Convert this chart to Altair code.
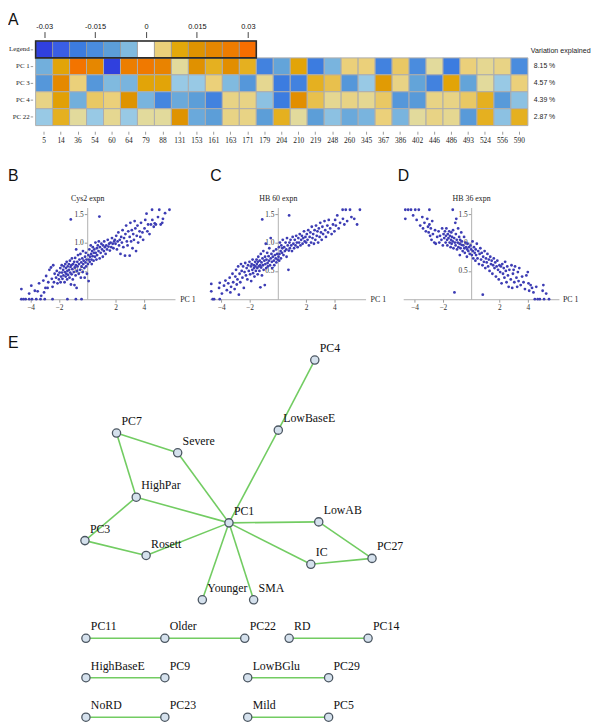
import altair as alt
import pandas as pd

W, H = 592, 718
SERIF = "Liberation Serif"
SANS = "Liberation Sans"

# ---------------- Panel A data ----------------
columns = ["5", "14", "36", "54", "60", "64", "79", "88", "131", "153", "161", "163", "171", "179",
           "204", "210", "219", "248", "260", "345", "367", "386", "402", "446", "486", "493", "524", "556", "590"]
pc_rows = ["PC 1", "PC 3", "PC 4", "PC 22"]
pc1 = [-0.007, 0.011, 0.028, 0.020, -0.030, 0.024, 0.026, 0.022, 0.002, 0.016, 0.009, 0.017, 0.009, -0.018,
       -0.009, 0.011, -0.020, -0.006, 0.005, 0.005, -0.018, 0.006, -0.015, 0.002, -0.020, 0.005, 0.003, 0.004, -0.015]
pc3 = [-0.012, 0.019, 0.005, -0.012, -0.005, -0.006, 0.011, 0.011, -0.003, -0.003, 0.005, -0.005, -0.012, 0.003,
       -0.020, -0.018, 0.009, 0.007, -0.012, -0.003, 0.013, 0.004, -0.009, -0.018, 0.011, -0.009, 0.002, -0.003, 0.005]
pc4 = [0.004, 0.012, -0.007, 0.006, 0.005, 0.015, -0.006, -0.017, -0.008, -0.010, -0.018, 0.004, 0.004, -0.004,
       -0.020, 0.017, 0.007, 0.003, 0.004, 0.003, 0.006, -0.012, -0.011, 0.004, 0.004, 0.006, 0.009, -0.011, -0.004]
pc22 = [-0.003, 0.009, 0.002, -0.003, 0.003, -0.003, 0.002, 0.002, 0.015, -0.008, -0.010, 0.004, 0.004, -0.010,
        0.009, 0.002, -0.010, -0.004, -0.008, -0.006, 0.005, -0.006, 0.002, 0.004, 0.003, -0.011, 0.009, -0.004, 0.009]
variation = ["8.15 %", "4.57 %", "4.39 %", "2.87 %"]
legend_vals = [-0.03, -0.025, -0.02, -0.015, -0.01, -0.005, 0, 0.005, 0.01, 0.015, 0.02, 0.025, 0.03]
legend_ticks = [-0.03, -0.015, 0, 0.015, 0.03]
color_domain = [-0.03, -0.025, -0.02, -0.015, -0.01, -0.005, -0.002, 0, 0.002, 0.005, 0.01, 0.015, 0.02, 0.025, 0.03]
color_range = ["#3040de", "#3a5ee4", "#3c7ce0", "#4a8cde", "#5c9ed8", "#80badf", "#a4d0e8", "#ffffff",
               "#e2da9c", "#ebd07a", "#e3a80a", "#df9300", "#e68700", "#ee7c00", "#f76e00"]

# ---------------- Panels B-D data (PC 1 score, expression) ----------------
b_points = [
    (-4.65, 0), (-4.5, 0), (-4.35, 0), (-4.1, 0), (-3.9, 0), (-3.6, 0), (-3.3, 0), (-3.0, 0), (-2.45, 0), (-1.4, 0), (-0.8, 0), (-0.4, 0),
    (-4.65, 0.18), (-4.1, 0.1), (-3.95, 0.24), (-3.7, 0.15), (-3.5, 0.14), (-3.4, 0.28), (-3.25, 0.06), (-3.1, 0.33), (-3.05, 0.12),
    (-2.95, 0.2), (-2.9, 0.41), (-2.8, 0.2), (-2.75, 0.3), (-2.67, 0.52), (-2.56, 0.56), (-2.5, 0.36), (-2.45, 0.22), (-2.4, 0.6),
    (-2.35, 0.3), (-2.3, 0.45), (-2.2, 0.38), (-2.15, 0.5), (-2.1, 0.28), (-2.05, 0.43), (-2.0, 0.35), (-1.95, 0.47), (-1.9, 0.55),
    (-1.88, 0.3), (-1.85, 0.4), (-1.8, 0.6), (-1.78, 0.47), (-1.75, 0.36), (-1.7, 0.52), (-1.68, 0.42), (-1.65, 0.58), (-1.6, 0.3),
    (-1.58, 0.48), (-1.55, 0.62), (-1.52, 0.4), (-1.5, 0.55), (-1.48, 0.45), (-1.45, 0.66), (-1.42, 0.35), (-1.4, 0.5), (-1.38, 0.58),
    (-1.35, 0.43), (-1.3, 0.62), (-1.28, 0.52), (-1.25, 0.38), (-1.22, 0.68), (-1.2, 0.47), (-1.18, 0.57), (-1.15, 0.26), (-1.12, 0.6),
    (-1.1, 0.44), (-1.08, 0.72), (-1.05, 0.53), (-1.02, 0.35), (-1.0, 0.62), (-1.16, 1.41),
    (-0.95, 0.48), (-0.92, 0.66), (-0.9, 0.25), (-0.88, 0.56), (-0.85, 0.73), (-0.82, 0.42), (-0.8, 0.6), (-0.78, 0.88), (-0.75, 0.2),
    (-0.72, 0.5), (-0.7, 0.66), (-0.68, 0.58), (-0.65, 0.78), (-0.6, 0.45), (-0.58, 0.62), (-0.55, 0.7), (-0.5, 0.52), (-0.48, 0.8),
    (-0.45, 0.38), (-0.42, 0.65), (-0.4, 0.58), (-0.35, 0.72), (-0.32, 0.48), (-0.3, 0.85), (-0.28, 0.62), (-0.25, 0.68), (-0.2, 0.55),
    (-0.18, 0.38), (-0.15, 0.75), (-0.12, 0.65), (-0.1, 0.82), (-0.08, 0.58), (-0.05, 0.7), (-0.02, 0.45),
    (0.05, 0.62), (0.08, 0.78), (0.1, 0.32), (0.12, 0.7), (0.15, 0.88), (0.18, 0.66), (0.2, 0.75), (0.25, 0.95), (0.28, 0.8), (0.3, 0.7),
    (0.32, 0.62), (0.35, 0.85), (0.38, 0.76), (0.4, 0.92), (0.45, 0.68), (0.48, 0.82), (0.5, 0.88), (0.55, 0.75), (0.58, 1.0), (0.6, 0.82),
    (0.65, 0.7), (0.68, 0.9), (0.7, 0.78), (0.75, 0.95), (0.8, 0.85), (0.82, 1.02), (0.86, 1.46), (0.88, 0.72), (0.9, 0.92), (0.95, 0.82),
    (1.0, 0.98), (1.05, 0.88), (1.1, 0.75), (1.12, 0.95), (1.18, 0.85), (1.2, 1.02), (1.25, 0.92), (1.3, 0.8), (1.35, 0.95), (1.4, 0.88),
    (1.45, 1.05), (1.5, 0.93), (1.55, 0.98), (1.6, 0.86), (1.65, 1.0), (1.7, 0.92), (1.75, 1.08), (1.8, 0.98), (1.85, 0.9), (1.9, 1.02),
    (1.95, 1.05), (2.0, 0.98), (2.05, 1.12), (2.1, 0.88), (2.15, 1.02), (2.2, 1.18), (2.25, 0.95), (2.3, 1.05), (2.35, 0.8), (2.4, 1.1),
    (2.45, 1.0), (2.5, 1.22), (2.55, 0.92), (2.6, 1.08), (2.67, 0.77), (2.7, 1.15), (2.75, 1.3), (2.8, 1.02), (2.85, 0.95), (2.9, 1.2),
    (3.0, 0.77), (3.0, 1.1), (3.05, 1.35), (3.1, 1.02), (3.15, 1.22), (3.2, 0.9), (3.25, 1.15), (3.3, 1.05), (3.35, 1.38), (3.4, 1.25),
    (3.45, 0.85), (3.5, 1.12), (3.55, 1.3), (3.6, 1.0), (3.7, 1.2), (3.75, 1.1), (3.8, 1.35), (3.9, 1.18), (3.95, 1.05),
    (4.05, 1.25), (4.1, 1.4), (4.19, 1.51), (4.25, 1.2), (4.3, 1.32), (4.4, 1.15), (4.5, 1.32), (4.58, 1.58), (4.6, 1.4), (4.7, 1.28),
    (4.77, 1.34), (4.85, 1.32), (5.0, 1.45), (5.09, 1.58), (5.19, 1.32), (5.3, 1.35), (5.35, 1.42), (5.5, 1.52), (5.81, 1.58),
]
c_points = [
    (-4.7, 0.14), (-4.7, 0.27), (-4.6, 0), (-4.5, 0), (-4.1, 0), (-4.1, 0.29), (-4.15, 0.2), (-3.95, 0.1), (-3.8, 0.24), (-3.7, 0.33),
    (-3.6, 0.16), (-3.5, 0.28), (-3.4, 0.38), (-3.35, 0.12), (-3.3, 0.22), (-3.2, 0.45), (-3.15, 0.3), (-3.05, 0.18), (-3.0, 0.4),
    (-2.95, 0.52), (-2.9, 0.26), (-2.85, 0.35), (-2.8, 0.58), (-2.75, 0.08), (-2.7, 0.45), (-2.65, 0.3), (-2.6, 0.62), (-2.55, 0.5),
    (-2.5, 0.38), (-2.45, 0.58), (-2.4, 0.2), (-2.35, 0.48), (-2.3, 0.64), (-2.25, 0.42), (-2.2, 0.55), (-2.15, 0.35), (-2.1, 0.6),
    (-2.05, 0.5), (-2.0, 0.66), (-1.95, 0.44), (-1.9, 0.58), (-1.88, 0.32), (-1.85, 0.62), (-1.8, 0.52), (-1.78, 0.7), (-1.75, 0.46),
    (-1.7, 0.6), (-1.68, 0.55), (-1.65, 0.4), (-1.6, 0.66), (-1.58, 0.58), (-1.55, 0.5), (-1.5, 0.7), (-1.48, 0.62), (-1.45, 0.55),
    (-1.42, 0.44), (-1.4, 0.66), (-1.38, 0.75), (-1.35, 0.58), (-1.3, 0.5), (-1.28, 0.68), (-1.25, 0.6), (-1.23, 0.21), (-1.2, 0.8),
    (-1.18, 0.56), (-1.15, 0.65), (-1.12, 0.42), (-1.1, 1.41), (-1.08, 0.72), (-1.05, 0.6), (-1.02, 0.85), (-1.0, 0.52), (-0.95, 0.68),
    (-0.92, 0.25), (-0.9, 0.75), (-0.88, 0.62), (-0.85, 0.98), (-0.82, 0.55), (-0.8, 0.7), (-0.75, 0.82), (-0.72, 0.64), (-0.7, 0.58),
    (-0.65, 0.76), (-0.62, 0.68), (-0.6, 0.9), (-0.55, 0.6), (-0.5, 1.08), (-0.5, 0.72), (-0.45, 0.8), (-0.42, 0.66), (-0.4, 0.55),
    (-0.35, 0.75), (-0.3, 0.85), (-0.28, 0.68), (-0.25, 0.6), (-0.2, 0.78), (-0.15, 0.72), (-0.12, 0.88), (-0.1, 0.65), (-0.05, 0.8),
    (-0.02, 0.7), (0.05, 0.75), (0.08, 0.92), (0.1, 0.68), (0.12, 0.8), (0.15, 1.0), (0.2, 0.85), (0.22, 0.72), (0.25, 0.95), (0.3, 0.82),
    (0.32, 0.9), (0.35, 1.05), (0.4, 0.78), (0.45, 0.92), (0.5, 0.85), (0.55, 1.0), (0.6, 0.88), (0.62, 0.75), (0.65, 1.08), (0.7, 0.95),
    (0.75, 0.52), (0.78, 0.86), (0.8, 1.48), (0.82, 1.0), (0.85, 0.9), (0.9, 1.05), (0.95, 0.95), (1.0, 0.85), (1.05, 1.1), (1.1, 0.98),
    (1.15, 0.9), (1.2, 1.05), (1.25, 0.95), (1.3, 1.12), (1.35, 1.0), (1.4, 0.92), (1.45, 1.08), (1.5, 1.0), (1.55, 1.15), (1.6, 0.95),
    (1.65, 1.05), (1.7, 1.12), (1.75, 0.98), (1.8, 1.08), (1.85, 1.2), (1.9, 1.02), (1.95, 1.1), (2.0, 1.0), (2.05, 1.15), (2.1, 1.05),
    (2.15, 1.22), (2.2, 0.95), (2.25, 1.1), (2.3, 1.18), (2.35, 1.0), (2.4, 1.28), (2.45, 1.08), (2.5, 1.15), (2.55, 0.98), (2.6, 1.22),
    (2.65, 1.05), (2.7, 1.3), (2.75, 1.12), (2.8, 1.2), (2.85, 1.0), (2.9, 1.25), (2.95, 1.1), (3.0, 1.35), (3.05, 1.18), (3.1, 1.05),
    (3.15, 1.28), (3.2, 1.15), (3.3, 1.38), (3.35, 1.22), (3.4, 1.1), (3.5, 1.3), (3.55, 1.18), (3.6, 1.4), (3.7, 1.25), (3.8, 1.15),
    (3.9, 1.32), (4.0, 1.2), (4.05, 1.4), (4.1, 1.3), (4.2, 1.48), (4.3, 1.25), (4.4, 1.35), (4.58, 1.58), (4.6, 1.42), (4.7, 1.32),
    (4.8, 1.58), (4.9, 1.38), (5.1, 1.58), (5.2, 1.45), (5.4, 1.42), (5.6, 1.32), (5.8, 1.58),
]
d_points = [
    (-4.65, 1.58), (-4.45, 1.58), (-4.25, 1.58), (-3.95, 1.58), (-3.7, 1.58), (-2.95, 1.58), (-1.3, 1.58),
    (-4.65, 1.42), (-4.1, 1.48), (-3.85, 1.4), (-3.6, 1.3), (-3.45, 1.45), (-3.4, 1.25), (-3.3, 1.35), (-3.2, 1.2), (-3.1, 1.42),
    (-3.05, 1.28), (-3.0, 1.18), (-2.95, 1.32), (-2.9, 1.12), (-2.85, 1.25), (-2.8, 1.05), (-2.75, 1.38), (-2.7, 1.15), (-2.6, 1.0),
    (-2.55, 1.22), (-2.5, 0.98), (-2.4, 1.1), (-2.3, 1.2), (-2.25, 1.0), (-2.2, 1.12), (-2.1, 1.05), (-2.05, 1.25), (-2.0, 0.95),
    (-1.95, 1.15), (-1.9, 1.08), (-1.85, 1.2), (-1.8, 1.0), (-1.78, 1.12), (-1.75, 1.25), (-1.7, 1.05), (-1.68, 0.95), (-1.65, 1.15),
    (-1.6, 1.08), (-1.55, 1.2), (-1.52, 1.0), (-1.5, 1.12), (-1.45, 0.92), (-1.42, 1.05), (-1.4, 1.18), (-1.38, 0.98), (-1.35, 1.1),
    (-1.3, 1.02), (-1.28, 1.22), (-1.25, 0.9), (-1.2, 1.08), (-1.18, 0.12), (-1.15, 1.0), (-1.12, 1.35), (-1.1, 0.95), (-1.08, 1.15),
    (-1.05, 1.42), (-1.02, 1.05), (-1.0, 0.88), (-0.95, 1.0), (-0.92, 1.25), (-0.9, 0.92), (-0.85, 1.1), (-0.82, 0.98), (-0.8, 0.78),
    (-0.78, 1.05), (-0.75, 0.9), (-0.7, 1.18), (-0.68, 0.96), (-0.65, 1.02), (-0.6, 0.85), (-0.55, 0.95), (-0.5, 1.1), (-0.48, 0.9),
    (-0.45, 0.82), (-0.4, 1.0), (-0.35, 0.92), (-0.3, 0.75), (-0.28, 0.88), (-0.25, 0.98), (-0.2, 0.85), (-0.15, 0.92), (-0.1, 0.8),
    (-0.05, 0.95), (0.0, 0.88), (0.05, 0.78), (0.1, 1.02), (0.12, 0.85), (0.15, 0.72), (0.2, 0.92), (0.25, 0.82), (0.3, 0.68),
    (0.32, 0.88), (0.35, 0.78), (0.4, 0.98), (0.45, 0.72), (0.5, 0.85), (0.55, 0.62), (0.6, 0.8), (0.65, 0.9), (0.7, 0.7), (0.75, 0.82),
    (0.8, 0.6), (0.82, 0.08), (0.85, 0.75), (0.9, 0.66), (0.95, 0.85), (1.0, 0.55), (1.05, 0.72), (1.1, 0.65), (1.15, 0.8), (1.2, 0.58),
    (1.25, 0.7), (1.3, 0.5), (1.35, 0.75), (1.4, 0.62), (1.45, 0.68), (1.5, 0.45), (1.55, 0.6), (1.6, 0.72), (1.65, 0.55), (1.7, 0.65),
    (1.75, 0.4), (1.8, 0.58), (1.85, 0.68), (1.9, 0.52), (1.95, 0.35), (2.0, 0.6), (2.05, 0.48), (2.1, 0.58), (2.15, 0.28), (2.2, 0.62),
    (2.25, 0.45), (2.3, 0.55), (2.35, 0.38), (2.4, 0.66), (2.45, 0.5), (2.5, 0.3), (2.55, 0.58), (2.6, 0.42), (2.65, 0.22), (2.7, 0.52),
    (2.8, 0.35), (2.85, 0.6), (2.9, 0.2), (2.95, 0.45), (3.0, 0.52), (3.05, 0.3), (3.1, 0.58), (3.2, 0.38), (3.25, 0.22), (3.3, 0.48),
    (3.35, 0.32), (3.4, 0.55), (3.5, 0.25), (3.6, 0.4), (3.7, 0.3), (3.8, 0.18), (3.9, 0.42), (4.0, 0.48), (4.05, 0.28), (4.1, 0.15),
    (4.2, 0.25), (4.3, 0.2), (4.4, 0.12), (4.5, 0), (4.6, 0.22), (4.7, 0), (4.85, 0), (5.05, 0.15), (5.1, 0.25), (5.15, 0), (5.3, 0.1), (5.5, 0),
]

# ---------------- Panel E data (graph layout) ----------------
node_names = ["PC4", "LowBaseE", "PC7", "Severe", "HighPar", "PC1", "PC3", "Rosett", "LowAB", "IC", "PC27", "Younger", "SMA",
              "PC11", "Older", "PC22", "RD", "PC14", "HighBaseE", "PC9", "LowBGlu", "PC29", "NoRD", "PC23", "Mild", "PC5"]
node_x = [319, 282, 118, 180, 138, 232, 86, 148, 323, 315, 377, 205, 257,
          87, 167, 248, 293, 373, 87, 167, 251, 333, 87, 167, 251, 333]
node_y = [360, 431, 434, 454, 499, 525, 543, 558, 524, 567, 561, 603, 603,
          642, 642, 642, 642, 642, 682, 682, 682, 682, 722, 722, 722, 722]
edges = [("PC1", "LowBaseE"), ("LowBaseE", "PC4"), ("PC1", "Severe"), ("Severe", "PC7"), ("PC7", "HighPar"),
         ("HighPar", "PC1"), ("HighPar", "PC3"), ("PC3", "Rosett"), ("Rosett", "PC1"), ("PC1", "LowAB"),
         ("LowAB", "PC27"), ("PC27", "IC"), ("IC", "PC1"), ("PC1", "Younger"), ("PC1", "SMA"),
         ("PC11", "Older"), ("Older", "PC22"), ("RD", "PC14"), ("HighBaseE", "PC9"), ("LowBGlu", "PC29"),
         ("NoRD", "PC23"), ("Mild", "PC5")]

# ================= Panel A =================
heat_df = pd.DataFrame([{"row": r, "col": c, "value": v}
                        for r, vals in zip(pc_rows, [pc1, pc3, pc4, pc22])
                        for c, v in zip(columns, vals)])
legend_df = pd.DataFrame({"row": "Legend", "value": legend_vals,
                          "lo": [v - 0.0025 for v in legend_vals], "hi": [v + 0.0025 for v in legend_vals]})
var_df = pd.DataFrame({"row": pc_rows, "label": variation})

rows_all = ["Legend"] + pc_rows
yband = alt.Scale(domain=rows_all, range=[28.5, 114.3], paddingInner=0, paddingOuter=0)
cscale = alt.Scale(domain=color_domain, range=color_range, interpolate="rgb")
lx = alt.Scale(domain=[-0.0325, 0.0325], range=[28, 251.7], nice=False, zero=False)

heat = alt.Chart(heat_df).mark_rect(stroke="#adadad", strokeWidth=1).encode(
    x=alt.X("col:N", sort=columns,
            scale=alt.Scale(domain=columns, range=[28, 527], paddingInner=0, paddingOuter=0),
            axis=alt.Axis(orient="bottom", offset=120 - H, title=None, domain=False, tickSize=3,
                          tickColor="#999", labelAngle=0, labelFont=SERIF, labelFontSize=7.5,
                          labelColor="#222", labelPadding=2, labelOverlap=False)),
    y=alt.Y("row:N", scale=yband,
            axis=alt.Axis(orient="left", offset=-25, title=None, domain=False, tickSize=2.5, tickColor="#999",
                          labelFont=SERIF, labelFontSize=7, labelColor="#222", labelPadding=1)),
    color=alt.Color("value:Q", scale=cscale, legend=None),
)

leg_cells = alt.Chart(legend_df).mark_rect(stroke="#9a9a9a", strokeWidth=0.8).encode(
    x=alt.X("lo:Q", scale=lx,
            axis=alt.Axis(orient="top", offset=-25, values=legend_ticks, labelExpr="'' + datum.value",
                          title=None, domain=False, grid=False, tickSize=6, tickColor="#444",
                          labelFont=SANS, labelFontSize=7.5, labelColor="#111", labelPadding=1)),
    x2="hi:Q",
    y=alt.Y("row:N", scale=yband),
    color=alt.Color("value:Q", scale=cscale, legend=None),
)
leg_border = alt.Chart(pd.DataFrame({"row": ["Legend"], "lo": [legend_vals[0] - 0.0025],
                                     "hi": [legend_vals[-1] + 0.0025]})).mark_rect(
    filled=False, stroke="#2a2a2a", strokeWidth=1.6).encode(
    x=alt.X("lo:Q", scale=lx), x2="hi:Q", y=alt.Y("row:N", scale=yband))

var_text = alt.Chart(var_df).mark_text(align="left", baseline="middle", font=SANS, fontSize=7,
                                        color="#222").encode(
    x=alt.value(533), y=alt.Y("row:N", scale=yband), text="label:N")

panel_a = alt.layer(heat, alt.layer(leg_cells, leg_border), var_text).resolve_scale(x="independent")

var_head = alt.Chart(pd.DataFrame({"t": ["Variation explained"]})).mark_text(
    align="left", baseline="middle", font=SANS, fontSize=7.2, color="#222").encode(
    x=alt.value(530), y=alt.value(39), text="t:N")

# ================= Panels B-D =================
U = 14.35   # px per PC1 unit
V = 57.4    # px per expression unit
Y0 = 290.3  # y pixel of expression 0
YMAX = 1.62
PT = "#3c3cb4"


def scatter(points, x0, title, pc_x):
    df = pd.DataFrame(points, columns=["pc1", "expn"])
    xs = alt.Scale(domain=[-4.8, 6.2], range=[x0 - 4.8 * U, x0 + 6.2 * U], nice=False, zero=False)
    ys = alt.Scale(domain=[0, YMAX], range=[Y0, Y0 - YMAX * V], nice=False, zero=False)
    return alt.Chart(df).mark_circle(size=8, color=PT, opacity=1).encode(
        x=alt.X("pc1:Q", scale=xs,
                axis=alt.Axis(orient="bottom", offset=Y0 - H, values=[-4, -2, 2, 4], grid=False,
                              domainColor="#b0b0b0", tickColor="#999", tickSize=3, labelFont=SERIF,
                              labelFontSize=7.5, labelColor="#333", labelPadding=1,
                              title="PC 1", titleX=pc_x, titleY=0, titleAlign="left", titleBaseline="middle",
                              titleAngle=0, titleFont=SERIF, titleFontSize=8, titleFontWeight="normal",
                              titleColor="#222")),
        y=alt.Y("expn:Q", scale=ys,
                axis=alt.Axis(orient="left", offset=-x0, values=[0.5, 1.0, 1.5], format=".1f", grid=False,
                              domainColor="#b0b0b0", tickColor="#999", tickSize=3, labelFont=SERIF,
                              labelFontSize=7.5, labelColor="#333", labelPadding=1,
                              title=title, titleX=0, titleY=Y0 - YMAX * V - 9, titleAlign="center",
                              titleBaseline="middle", titleAngle=0, titleFont=SERIF, titleFontSize=8,
                              titleFontWeight="normal", titleColor="#222")),
    )


sB = scatter(b_points, 80.3, "Cys2 expn", 174)
sC = scatter(c_points, 273.5, "HB 60 expn", 367)
sD = scatter(d_points, 469.5, "HB 36 expn", 562)

# ================= Panel E =================
node_df = pd.DataFrame({"name": node_names, "lx": node_x, "ly": node_y})
pos = {n: (x, y) for n, x, y in zip(node_names, node_x, node_y)}
edge_df = pd.DataFrame([{"x1": pos[a][0], "y1": pos[a][1], "x2": pos[b][0], "y2": pos[b][1]} for a, b in edges])
nx = alt.Scale(domain=[8, 600], range=[0, W], nice=False, zero=False)
ny = alt.Scale(domain=[8, 726], range=[0, H], nice=False, zero=False)

net_edges = alt.Chart(edge_df).mark_rule(color="#72cc62", strokeWidth=1.6).encode(
    x=alt.X("x1:Q", scale=nx, axis=None), y=alt.Y("y1:Q", scale=ny, axis=None), x2="x2:Q", y2="y2:Q")
net_nodes = alt.Chart(node_df).mark_point(filled=True, fill="#d5e1ed", stroke="#4b5661", strokeWidth=1.3,
                                          size=70, opacity=1, shape="circle").encode(
    x=alt.X("lx:Q", scale=nx, axis=None), y=alt.Y("ly:Q", scale=ny, axis=None))
net_labels = alt.Chart(node_df).mark_text(align="left", baseline="middle", dx=5, dy=-12, font=SERIF,
                                          fontSize=12, color="#111").encode(
    x=alt.X("lx:Q", scale=nx, axis=None), y=alt.Y("ly:Q", scale=ny, axis=None), text="name:N")
network = alt.layer(net_edges, net_nodes, net_labels)


# ================= Panel letters =================
def letter(t, x, y):
    return alt.Chart(pd.DataFrame({"t": [t]})).mark_text(
        align="left", baseline="alphabetic", font=SANS, fontSize=16, color="#111").encode(
        x=alt.value(x), y=alt.value(y), text="t:N")


letters = [letter("A", 0, 12), letter("B", 0, 170), letter("C", 205, 170), letter("D", 395, 170), letter("E", 0, 340)]

chart = alt.layer(panel_a, var_head, sB, sC, sD, network, *letters).resolve_scale(
    x="independent", y="independent", color="independent"
).properties(
    width=W, height=H, autosize=alt.AutoSizeParams(type="none"), padding=0, background="white"
).configure_view(strokeWidth=0, stroke="transparent")

chart.save("out.html", embed_options={"renderer": "svg", "actions": False})
